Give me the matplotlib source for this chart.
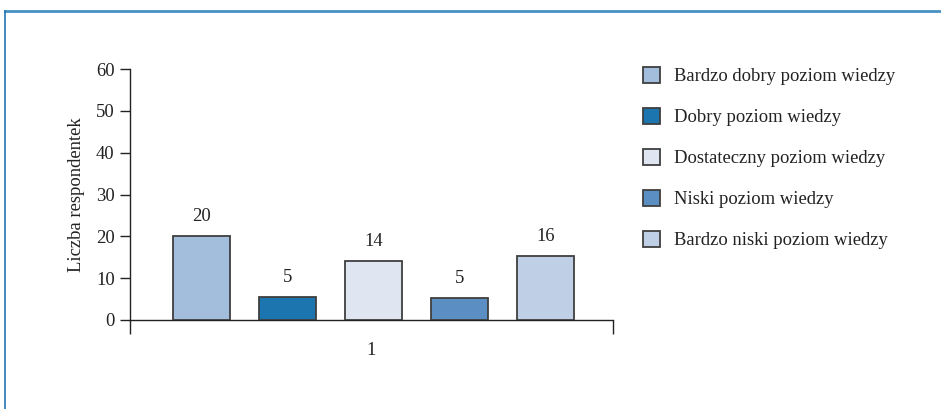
import matplotlib
matplotlib.use("Agg")
import matplotlib.pyplot as plt
from matplotlib.lines import Line2D

categories = ["Bardzo dobry poziom wiedzy", "Dobry poziom wiedzy",
              "Dostateczny poziom wiedzy", "Niski poziom wiedzy",
              "Bardzo niski poziom wiedzy"]
values = [20, 5.5, 14, 5.3, 15.3]
value_labels = ["20", "5", "14", "5", "16"]
group_label = "1"
y_ticks = [0, 10, 20, 30, 40, 50, 60]
colors = ["#a3bedd", "#1c75ae", "#dfe5f1", "#5b8fc3", "#bfd0e6"]

plt.rcParams["font.family"] = ["Liberation Serif", "DejaVu Serif"]
FS = 13.4

fig = plt.figure(figsize=(9.41, 4.09), dpi=100)
ax = fig.add_axes([130/941, 1-320/409, (613-130)/941, (320-69)/409])

step = 0.178
width = 0.118
for i, (v, c, lab, txt) in enumerate(zip(values, colors, categories, value_labels)):
    x = (i - 2) * step + 0.004
    ax.bar(x, v, width=width, color=c, edgecolor="#3f3f3f", linewidth=1.3, label=lab, zorder=3)
    ax.annotate(txt, (x, v), xytext=(0, 8), textcoords="offset points",
                ha="center", va="bottom", fontsize=FS, color="#222222")

ax.set_xlim(-0.5, 0.5)
ax.set_ylim(0, 60)
ax.set_yticks(y_ticks)
ax.tick_params(axis="y", length=7, width=1, labelsize=FS, colors="#222222", pad=4)
ax.set_xticks([-0.5, 0.5])
ax.set_xticklabels(["", ""])
ax.tick_params(axis="x", which="major", length=10, width=1, color="#222222")
ax.set_xticks([0], minor=True)
ax.set_xticklabels([group_label], minor=True)
ax.tick_params(axis="x", which="minor", length=0, labelsize=FS, pad=16, labelcolor="#222222")
for s in ["top", "right"]:
    ax.spines[s].set_visible(False)
for s in ["left", "bottom"]:
    ax.spines[s].set_color("#222222")
    ax.spines[s].set_linewidth(1)
ax.set_ylabel("Liczba respondentek", fontsize=FS, color="#222222", labelpad=8)

leg = fig.legend(loc="upper left", bbox_to_anchor=(626/941, 1-50/409), frameon=False,
                 fontsize=FS, handlelength=0.95, handleheight=0.95, handletextpad=0.75,
                 labelspacing=1.21)
for t in leg.get_texts():
    t.set_color("#222222")

# frame lines
fig.add_artist(Line2D([4.5/941, 1], [1-11/409, 1-11/409], transform=fig.transFigure,
                      color="#4a8fc2", linewidth=2))
fig.add_artist(Line2D([4.5/941, 4.5/941], [0, 1-11/409], transform=fig.transFigure,
                      color="#1f76b8", linewidth=1.2))

fig.savefig("out.png", dpi=100)
